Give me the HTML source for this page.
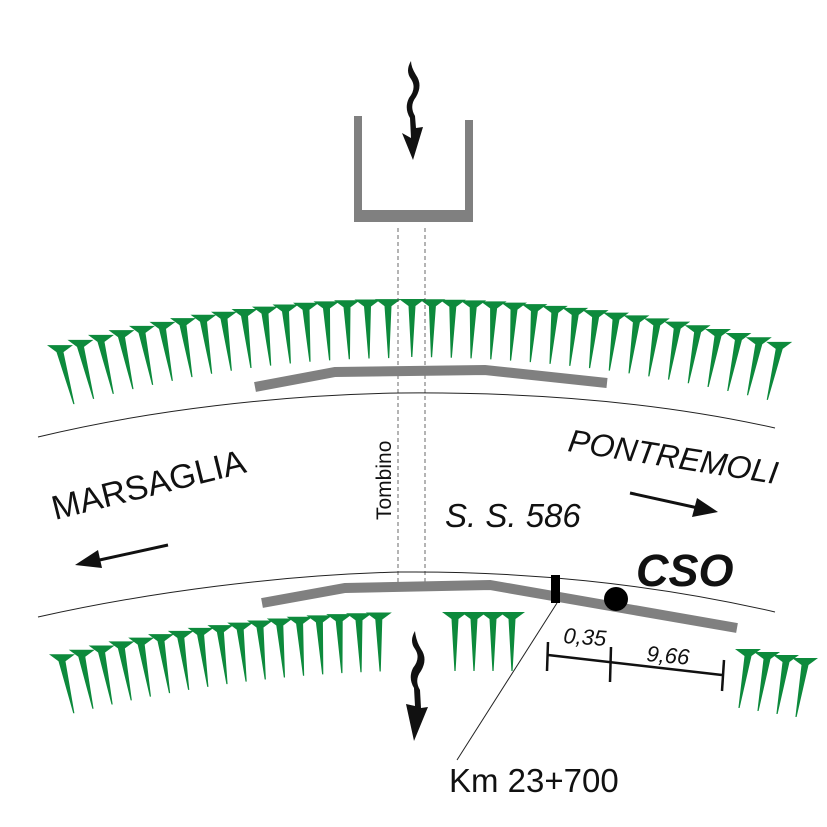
<!DOCTYPE html>
<html><head><meta charset="utf-8"><style>html,body{margin:0;padding:0;background:#fff}svg{display:block}</style></head>
<body>
<svg id="s" width="827" height="827" viewBox="0 0 827 827" xmlns="http://www.w3.org/2000/svg" font-family="Liberation Sans, sans-serif">
<rect width="827" height="827" fill="#fff"/>
<g id="sp" fill="#0d8a3c"></g>
<path d="M354 116 H362 V210 H465 V120 H473 V222 H354 Z" fill="#808080"/>
<line x1="398" y1="228" x2="398" y2="590" stroke="#444" stroke-width="0.8" stroke-dasharray="4,3"/>
<line x1="425" y1="228" x2="425" y2="590" stroke="#444" stroke-width="0.8" stroke-dasharray="4,3"/>
<path d="M38 437 C150 410 280 395 400 393 C520 392 650 400 775 428" fill="none" stroke="#222" stroke-width="1"/>
<path d="M38 617 C150 592 280 575 400 572 C520 571 650 583 775 612" fill="none" stroke="#222" stroke-width="1"/>
<polyline points="255,387 335,372 485,370 607,383" fill="none" stroke="#808080" stroke-width="10"/>
<polyline points="262,603 345,588 490,585 737,628" fill="none" stroke="#808080" stroke-width="10"/>
<rect x="551" y="575" width="9" height="28" fill="#000"/>
<circle cx="616" cy="599" r="12" fill="#000"/>
<path d="M411 61 q-6 10 0 18 q6 9 -2 19 q-5 10 1 20 l1 20 l-9 -5 l11 27 l10 -33 l-7 1 l-1 -12 q-6 -10 1 -19 q7 -12 0 -22 q-5 -8 -5 -14 z" fill="#111"/>
<path d="M415 631 q-6 10 0 18 q6 9 -2 19 q-5 10 1 20 l1 18 l-9 -2 l8 37 l14 -34 l-7 1 l-1 -18 q-6 -10 1 -19 q7 -12 0 -22 q-5 -8 -6 -18 z" fill="#111"/>
<line x1="168" y1="545" x2="95" y2="561" stroke="#111" stroke-width="3"/>
<polygon points="75,565 98,550 102,568" fill="#111"/>
<line x1="630" y1="493" x2="698" y2="508" stroke="#111" stroke-width="3"/>
<polygon points="718,512 692,517 697,498" fill="#111"/>
<line x1="557" y1="603" x2="457" y2="760" stroke="#222" stroke-width="1"/>
<line x1="548" y1="655" x2="722" y2="675" stroke="#111" stroke-width="2.5"/>
<line x1="548" y1="642" x2="547" y2="671" stroke="#111" stroke-width="2.5"/>
<line x1="611" y1="647" x2="610" y2="682" stroke="#111" stroke-width="2.5"/>
<line x1="724" y1="660" x2="722" y2="691" stroke="#111" stroke-width="2.5"/>
<text x="563" y="643" font-size="22" font-style="italic" fill="#111" transform="rotate(4 563 643)">0,35</text>
<text x="646" y="661" font-size="22" font-style="italic" fill="#111" transform="rotate(5 646 661)">9,66</text>
<text x="55" y="520" font-size="34" fill="#111" transform="rotate(-14 55 520)">MARSAGLIA</text>
<text x="567" y="451" font-size="32" font-style="italic" fill="#111" transform="rotate(9 567 451)">PONTREMOLI</text>
<text x="445" y="527" font-size="33" font-style="italic" fill="#111">S. S. 586</text>
<text x="636" y="586" font-size="45" font-style="italic" font-weight="bold" fill="#111">CSO</text>
<text x="0" y="0" font-size="21" fill="#111" transform="translate(391 520) rotate(-90)">Tombino</text>
<text x="449" y="792" font-size="33" fill="#111">Km 23+700</text>
</svg>
<script>
var g=document.getElementById('sp'),h='';
function spike(x,y,len,dx){
  var tx=x+dx, ty=y+len;
  h+='<path d="M'+(x-13)+' '+(y-1)+' L'+(x+13)+' '+(y-1)+' L'+(x+3.5)+' '+(y+6)+' L'+(tx+0.6)+' '+ty+' L'+(tx-0.6)+' '+ty+' L'+(x-3.5)+' '+(y+6)+' Z"/>';
}
var i,x,y,s;
for(i=0;i<17;i++){x=60+i*20.5;s=0.000388*2*(405-x);y=300+0.000388*(x-405)*(x-405);spike(x,y,58,s*52);}
for(i=0;i<19;i++){x=412+i*20.4;s=-0.000306*2*(x-405);y=300+0.000306*(x-405)*(x-405);spike(x,y,57,s*52);}
for(i=0;i<17;i++){x=62+i*19.8;s=0.000330*2*(420-x);y=613+0.000330*(x-420)*(x-420);spike(x,y,58,s*50);}
for(i=0;i<4;i++){x=455+i*19;spike(x,613,58,0);}
for(i=0;i<4;i++){x=748+i*19;y=650+i*3;spike(x,y,58,-9);}
g.innerHTML=h;
</script>
</body></html>
